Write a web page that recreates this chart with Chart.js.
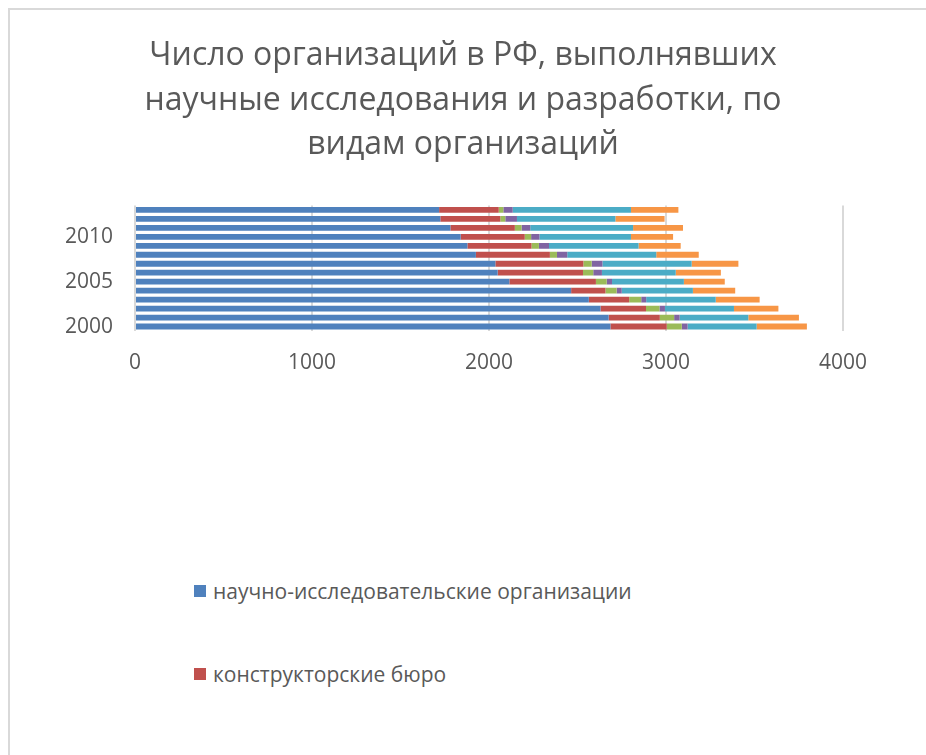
<!DOCTYPE html>
<html lang="ru">
<head>
<meta charset="utf-8">
<title>Число организаций в РФ</title>
<script src="https://cdn.jsdelivr.net/npm/chart.js@4.4.1/dist/chart.umd.min.js"></script>
<style>
    body {
        margin: 0;
        width: 926px;
        height: 755px;
        overflow: hidden;
        background: #fff;
        position: relative;
        font-family: 'Open Sans', sans-serif;
    }
    #frame {
        position: absolute;
        left: 8px;
        top: 8px;
        width: 1000px;
        height: 1000px;
        border: 2px solid #d9d9d9;
    }
    #chartBox {
        position: absolute;
        left: 0;
        top: 0;
    }
    #legend {
        position: absolute;
        left: 194px;
        top: 549px;
        height: 166px;
        overflow: hidden;
    }
    .legend-item {
        display: flex;
        align-items: center;
        height: 83px;
        font-size: 21px;
        color: #595959;
        white-space: nowrap;
    }
    .legend-box {
        width: 12px;
        height: 12px;
        margin-right: 7px;
    }
</style>
</head>
<body>
<div id="frame"></div>
<div id="chartBox"><canvas id="orgChart" width="926" height="400"></canvas></div>
<div id="legend"></div>

<script>
// Годы (снизу вверх на графике)
const years = ['2000', '2001', '2002', '2003', '2004', '2005', '2006',
               '2007', '2008', '2009', '2010', '2011', '2012', '2013'];

// Число организаций по видам
const researchOrgs   = [2686, 2676, 2630, 2564, 2464, 2115, 2049, 2036, 1926, 1878, 1840, 1782, 1725, 1718];
const designBureaus  = [318, 289, 257, 228, 194, 489, 482, 497, 418, 362, 362, 364, 339, 337];
const projectOrgs    = [85, 81, 76, 68, 63, 61, 58, 47, 40, 42, 36, 38, 28, 26];
const pilotPlants    = [33, 31, 31, 28, 29, 30, 49, 61, 58, 57, 47, 49, 66, 53];
const universities   = [390, 388, 390, 393, 402, 406, 417, 504, 503, 506, 517, 581, 556, 668];
const industrial     = [284, 286, 251, 248, 239, 231, 255, 264, 240, 238, 238, 282, 278, 268];

const xTicks = [0, 1000, 2000, 3000, 4000];

const seriesNames = [
    'научно-исследовательские организации',
    'конструкторские бюро',
    'проектные и проектно-изыскательские организации',
    'опытные заводы',
    'образовательные организации высшего образования',
    'организации промышленности'
];
const seriesColors = ['#4f81bd', '#c0504d', '#9bbb59', '#8064a2', '#4bacc6', '#f79646'];
const seriesData = [researchOrgs, designBureaus, projectOrgs, pilotPlants, universities, industrial];

const textColor = '#595959';

// Заголовок центрируем по всей ширине холста, а не по области с отступами
const centerTitle = {
    id: 'centerTitle',
    afterLayout(chart) {
        const t = chart.titleBlock;
        if (!t) return;
        t.left = 0;
        t.right = chart.width;
        t.width = chart.width;
    }
};

const ctx = document.getElementById('orgChart').getContext('2d');

window.orgChart = new Chart(ctx, {
    type: 'bar',
    data: {
        labels: years,
        datasets: seriesNames.map((name, i) => ({
            label: name,
            data: seriesData[i],
            backgroundColor: seriesColors[i],
            borderWidth: 0,
            categoryPercentage: 0.65,
            barPercentage: 1
        }))
    },
    options: {
        indexAxis: 'y',
        responsive: false,
        animation: false,
        layout: {
            padding: { top: 34, right: 83, left: 0, bottom: 0 }
        },
        plugins: {
            legend: { display: false },
            tooltip: { enabled: false },
            title: {
                display: true,
                text: [
                    'Число организаций в РФ, выполнявших',
                    'научные исследования и разработки, по',
                    'видам организаций'
                ],
                color: textColor,
                font: { family: 'Open Sans', size: 32, weight: 'normal', lineHeight: 1.39 },
                padding: { top: 0, bottom: 38 }
            }
        },
        scales: {
            x: {
                stacked: true,
                min: 0,
                max: 4000,
                afterBuildTicks: scale => {
                    scale.ticks = xTicks.map(v => ({ value: v }));
                },
                afterFit: scale => { scale.height = 69; },
                grid: { color: '#d9d9d9', lineWidth: 2, drawTicks: false },
                border: { display: false },
                ticks: {
                    color: textColor,
                    padding: 19,
                    font: { family: 'Open Sans', size: 21 },
                    callback: value => String(value)
                }
            },
            y: {
                stacked: true,
                reverse: true,
                afterFit: scale => { scale.width = 135; },
                grid: { display: false, drawTicks: false },
                border: { display: false },
                ticks: {
                    autoSkip: false,
                    color: textColor,
                    padding: 22,
                    font: { family: 'Open Sans', size: 21 },
                    callback: function(value, index) {
                        return index % 5 === 0 ? this.getLabelForValue(value) : '';
                    }
                }
            }
        }
    },
    plugins: [centerTitle]
});

// Легенда списком под графиком
const legendBox = document.getElementById('legend');
legendBox.innerHTML = window.orgChart.data.datasets.map(ds => `
    <div class="legend-item">
        <span class="legend-box" style="background:${ds.backgroundColor}"></span>
        <span>${ds.label}</span>
    </div>
`).join('');
</script>
</body>
</html>
